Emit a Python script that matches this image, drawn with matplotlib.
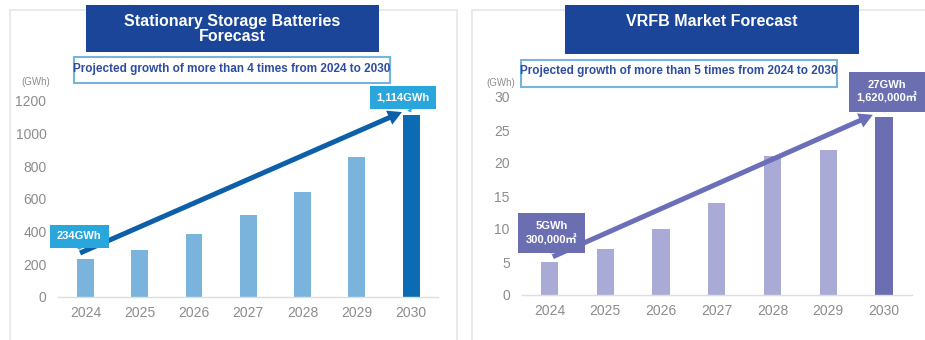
import matplotlib
matplotlib.use("Agg")
import matplotlib.pyplot as plt
from matplotlib.patches import Rectangle

plt.rcParams["font.family"] = ["Liberation Sans", "Noto Sans CJK JP", "DejaVu Sans"]

# data
years = ["2024", "2025", "2026", "2027", "2028", "2029", "2030"]
storage_gwh = [234, 290, 385, 500, 645, 855, 1114]
vrfb_gwh = [5, 7, 10, 14, 21, 22, 27]
storage_ticks = [0, 200, 400, 600, 800, 1000, 1200]
vrfb_ticks = [0, 5, 10, 15, 20, 25, 30]

left_title = "Stationary Storage Batteries\nForecast"
right_title = "VRFB Market Forecast"
left_sub = "Projected growth of more than 4 times from 2024 to 2030"
right_sub = "Projected growth of more than 5 times from 2024 to 2030"
left_first = "234GWh"
left_last = "1,114GWh"
right_first = "5GWh\n300,000㎡"
right_last = "27GWh\n1,620,000㎡"

W, H = 925, 340
fig = plt.figure(figsize=(W / 100, H / 100), dpi=100)

# overlay in pixel coords for the panel decorations
bg = fig.add_axes([0, 0, 1, 1], zorder=0)
bg.set_xlim(0, W)
bg.set_ylim(H, 0)
bg.axis("off")

TITLE = "#1b4598"
SUBTXT = "#2e4d9e"
SUBEDGE = "#74b5e0"
TICK = "#8c8c8c"

for x0, x1 in [(10, 457), (472, 935)]:
    bg.add_patch(Rectangle((x0, 10), x1 - x0, 340, fc="white", ec="#e6e6e6", lw=1.2))

# title boxes
bg.add_patch(Rectangle((86, 5), 293, 47, fc=TITLE, ec="none"))
bg.text(232, 29, left_title, ha="center", va="center", color="white",
        fontsize=11.5, fontweight="bold", linespacing=1.05)
bg.add_patch(Rectangle((565, 5), 294, 49, fc=TITLE, ec="none"))
bg.text(712, 22, right_title, ha="center", va="center", color="white",
        fontsize=11.5, fontweight="bold")

# subtitle boxes
bg.add_patch(Rectangle((74, 57), 316, 26, fc="white", ec=SUBEDGE, lw=1.5))
bg.text(232, 69, left_sub, ha="center", va="center", color=SUBTXT,
        fontsize=8.5, fontweight="bold")
bg.add_patch(Rectangle((521, 60), 316, 27, fc="white", ec=SUBEDGE, lw=1.5))
bg.text(679, 71, right_sub, ha="center", va="center", color=SUBTXT,
        fontsize=8.5, fontweight="bold")

bg.text(36, 82, "(GWh)", ha="center", va="center", color=TICK, fontsize=7)
bg.text(501, 83, "(GWh)", ha="center", va="center", color=TICK, fontsize=7)


def style(ax, ticks):
    ax.set_facecolor("none")
    for s in ["top", "right", "left"]:
        ax.spines[s].set_visible(False)
    ax.spines["bottom"].set_color("#dedede")
    ax.spines["bottom"].set_linewidth(1)
    ax.set_xlim(-0.5, len(years) - 0.5)
    ax.set_ylim(ticks[0], ticks[-1])
    ax.set_yticks(ticks)
    ax.tick_params(axis="y", length=0, pad=8.5, labelsize=10, labelcolor=TICK)
    ax.tick_params(axis="x", length=0, pad=6.5, labelsize=10, labelcolor=TICK)


def callout(ax, x, y, text, color, dx, dy, fs, pad):
    ax.annotate(text, xy=(x, y), xytext=(dx, dy), textcoords="offset points",
                ha="center", va="bottom", color="white", fontsize=fs,
                fontweight="bold", linespacing=1.25, annotation_clip=False,
                bbox=dict(boxstyle=f"square,pad={pad}", fc=color, ec="none"),
                arrowprops=dict(arrowstyle="wedge,tail_width=0.5", fc=color,
                                ec="none", shrinkA=0, shrinkB=0))


def trend(ax, start, end, color):
    ax.annotate("", xy=end, xytext=start, annotation_clip=False,
                arrowprops=dict(arrowstyle="simple,head_width=0.55,head_length=0.5,tail_width=0.18",
                                mutation_scale=20, fc=color, ec="none",
                                shrinkA=0, shrinkB=0))


# left chart
axl = fig.add_axes([58.3 / W, 43 / H, 380 / W, 196.2 / H], zorder=1)
style(axl, storage_ticks)
xs = range(len(years))
lcol = ["#7ab4dc"] * (len(years) - 1) + ["#0b6cb4"]
axl.bar(xs, storage_gwh, width=0.31, color=lcol)
axl.set_xticks(list(xs), years)
trend(axl, (-0.1, storage_gwh[0] + 35), (5.83, storage_gwh[-1] + 17), "#0d5fa9")
callout(axl, -0.11, storage_gwh[0] + 55, left_first, "#29a6dc", 0, 6, 8, 0.6)
callout(axl, 6, storage_gwh[-1] + 15, left_last, "#29a6dc", -6, 7, 8, 0.6)

# right chart
axr = fig.add_axes([521.6 / W, 45 / H, 390.3 / W, 198 / H], zorder=1)
style(axr, vrfb_ticks)
rcol = ["#aaaad6"] * (len(years) - 1) + ["#6b6fb2"]
axr.bar(xs, vrfb_gwh, width=0.31, color=rcol)
axr.set_xticks(list(xs), years)
trend(axr, (0.06, vrfb_gwh[0] + 0.8), (5.8, vrfb_gwh[-1] + 0.3), "#6b6fb8")
callout(axr, 0.04, vrfb_gwh[0] + 1.3, right_first, "#6b6fb2", 0, 6, 8, 0.7)
callout(axr, 6, vrfb_gwh[-1] + 0.7, right_last, "#6b6fb2", 2, 6, 8, 0.7)

fig.savefig("out.png", dpi=100, facecolor="white")
